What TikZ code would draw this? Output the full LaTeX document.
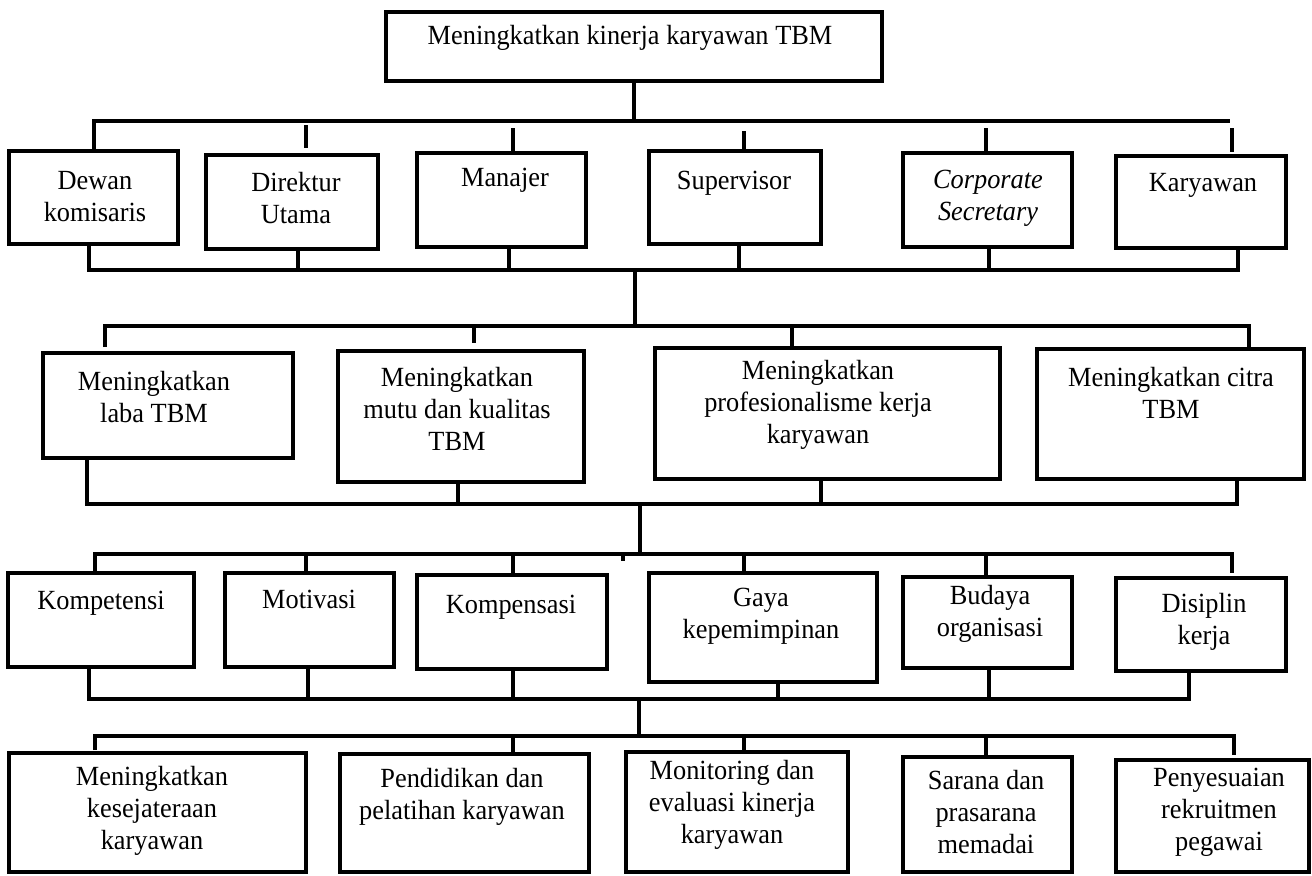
\documentclass[tikz,border=0pt]{standalone}
\usepackage{fontspec}
\setmainfont{Liberation Serif}[FakeStretch=0.95]
\usetikzlibrary{fit}
\tikzset{
  box/.style={draw, line width=2.4pt, inner sep=0pt, rectangle},
  txt/.style={align=center, font=\fontsize{20.8}{24}\selectfont, inner sep=0pt},
  ln/.style={line width=2.4pt}
}
\newcommand\obox[8]{\node[box, fit={(#2,#3) (#4,#5)}] (#1) {};
  \node[txt] (#1-t) at (#6,#7) {#8};}
\begin{document}
\begin{tikzpicture}[x=0.75pt, y=-0.75pt]
\useasboundingbox (0,0) rectangle (1312,875);
% top
\obox{top}{386}{12}{882}{81}{630}{38}{Meningkatkan kinerja karyawan TBM}
% level 1
\obox{dewan}{9}{151}{178}{244}{95}{197}{Dewan\\komisaris}
\obox{direktur}{206}{155}{378}{249}{296}{198}{Direktur\\Utama}
\obox{manajer}{417}{153}{586}{247}{505}{180}{Manajer}
\obox{supervisor}{649}{151}{821}{244}{734}{183}{Supervisor}
\obox{corporate}{903}{153}{1072}{247}{988}{198}{\textit{Corporate}\\\textit{Secretary}}
\obox{karyawan}{1116}{156}{1286}{248}{1203}{185}{Karyawan}
% level 2
\obox{laba}{43}{353}{293}{458}{154}{397}{Meningkatkan\\laba TBM}
\obox{mutu}{338}{351}{584}{482}{457}{409}{Meningkatkan\\mutu dan kualitas\\TBM}
\obox{prof}{655}{348}{1000}{479}{818}{405}{Meningkatkan\\profesionalisme kerja\\karyawan}
\obox{citra}{1037}{349}{1304}{479}{1171}{393}{Meningkatkan citra\\TBM}
% level 3
\obox{kompetensi}{8}{573}{194}{667}{101}{603}{Kompetensi}
\obox{motivasi}{225}{573}{394}{667}{309}{599}{Motivasi}
\obox{kompensasi}{417}{575}{607}{669}{511}{607}{Kompensasi}
\obox{gaya}{649}{573}{877}{682}{761}{616}{Gaya\\kepemimpinan}
\obox{budaya}{903}{577}{1072}{668}{990}{614}{Budaya\\organisasi}
\obox{disiplin}{1116}{578}{1286}{671}{1204}{622}{Disiplin\\kerja}
% level 4
\obox{kesej}{9}{753}{306}{872}{152}{811}{Meningkatkan\\kesejateraan\\karyawan}
\obox{pendidikan}{340}{754}{589}{872}{462}{797}{Pendidikan dan\\pelatihan karyawan}
\obox{monitoring}{626}{752}{848}{872}{732}{805}{Monitoring dan\\evaluasi kinerja\\karyawan}
\obox{sarana}{903}{757}{1072}{872}{986}{812}{Sarana dan\\prasarana\\memadai}
\obox{penyesuaian}{1116}{760}{1309}{872}{1219}{812}{Penyesuaian\\rekruitmen\\pegawai}

% ---- bus 1 (top -> level 1)
\coordinate (b1l) at (94,121);
\coordinate (b1r) at (1230,121);
\coordinate (b1m) at (634,121);
\draw[ln] (top.south -| b1m) -- (b1m);
\draw[ln] (dewan.north -| b1l) -- (b1l) -- (b1r);
\draw[ln] (306,125) -- (306,148);
\draw[ln] (513,128) -- (manajer.north -| 513,0);
\draw[ln] (744,131) -- (supervisor.north -| 744,0);
\draw[ln] (986,128) -- (corporate.north -| 986,0);
\draw[ln] (1232,128) -- (1232,152);
% ---- bus 2 (level 1 -> down)
\coordinate (b2l) at (89,270);
\coordinate (b2r) at (1238,270);
\coordinate (b2m) at (635,270);
\draw[ln] (dewan.south -| b2l) -- (b2l) -- (b2r) -- (karyawan.south -| b2r);
\draw[ln] (direktur.south -| 298,0) -- (298,270);
\draw[ln] (manajer.south -| 509,0) -- (509,270);
\draw[ln] (supervisor.south -| 739,0) -- (739,270);
\draw[ln] (corporate.south -| 989,0) -- (989,270);
% ---- bus 3 (-> level 2)
\coordinate (b3l) at (105,326);
\coordinate (b3r) at (1249,326);
\draw[ln] (b2m) -- (635,326);
\draw[ln] (105,347) -- (b3l) -- (b3r) -- (citra.north -| b3r);
\draw[ln] (474,326) -- (474,343);
\draw[ln] (792,326) -- (prof.north -| 792,0);
% ---- bus 4 (level 2 -> down)
\coordinate (b4l) at (87,504);
\coordinate (b4r) at (1237,504);
\draw[ln] (laba.south -| b4l) -- (b4l) -- (b4r) -- (citra.south -| b4r);
\draw[ln] (mutu.south -| 458,0) -- (458,504);
\draw[ln] (prof.south -| 821,0) -- (821,504);
% ---- bus 5 (-> level 3)
\coordinate (b5l) at (95,554);
\coordinate (b5r) at (1232,554);
\draw[ln] (640,504) -- (640,554);
\draw[ln] (kompetensi.north -| b5l) -- (b5l) -- (b5r) -- (1232,573);
\draw[ln] (306,554) -- (motivasi.north -| 306,0);
\draw[ln] (513,554) -- (kompensasi.north -| 513,0);
\draw[ln] (623,554) -- (623,561);
\draw[ln] (744,554) -- (gaya.north -| 744,0);
\draw[ln] (986,554) -- (budaya.north -| 986,0);
% ---- bus 6 (level 3 -> down)
\coordinate (b6l) at (89,699);
\coordinate (b6r) at (1189,699);
\draw[ln] (kompetensi.south -| b6l) -- (b6l) -- (b6r) -- (disiplin.south -| b6r);
\draw[ln] (motivasi.south -| 308,0) -- (308,699);
\draw[ln] (kompensasi.south -| 513,0) -- (513,699);
\draw[ln] (gaya.south -| 778,0) -- (778,699);
\draw[ln] (budaya.south -| 989,0) -- (989,699);
% ---- bus 7 (-> level 4)
\coordinate (b7l) at (95,736);
\coordinate (b7r) at (1234,736);
\draw[ln] (639,699) -- (639,736);
\draw[ln] (95,750) -- (b7l) -- (b7r) -- (1234,755);
\draw[ln] (513,736) -- (pendidikan.north -| 513,0);
\draw[ln] (744,736) -- (744,752);
\draw[ln] (986,736) -- (sarana.north -| 986,0);
\end{tikzpicture}
\end{document}
